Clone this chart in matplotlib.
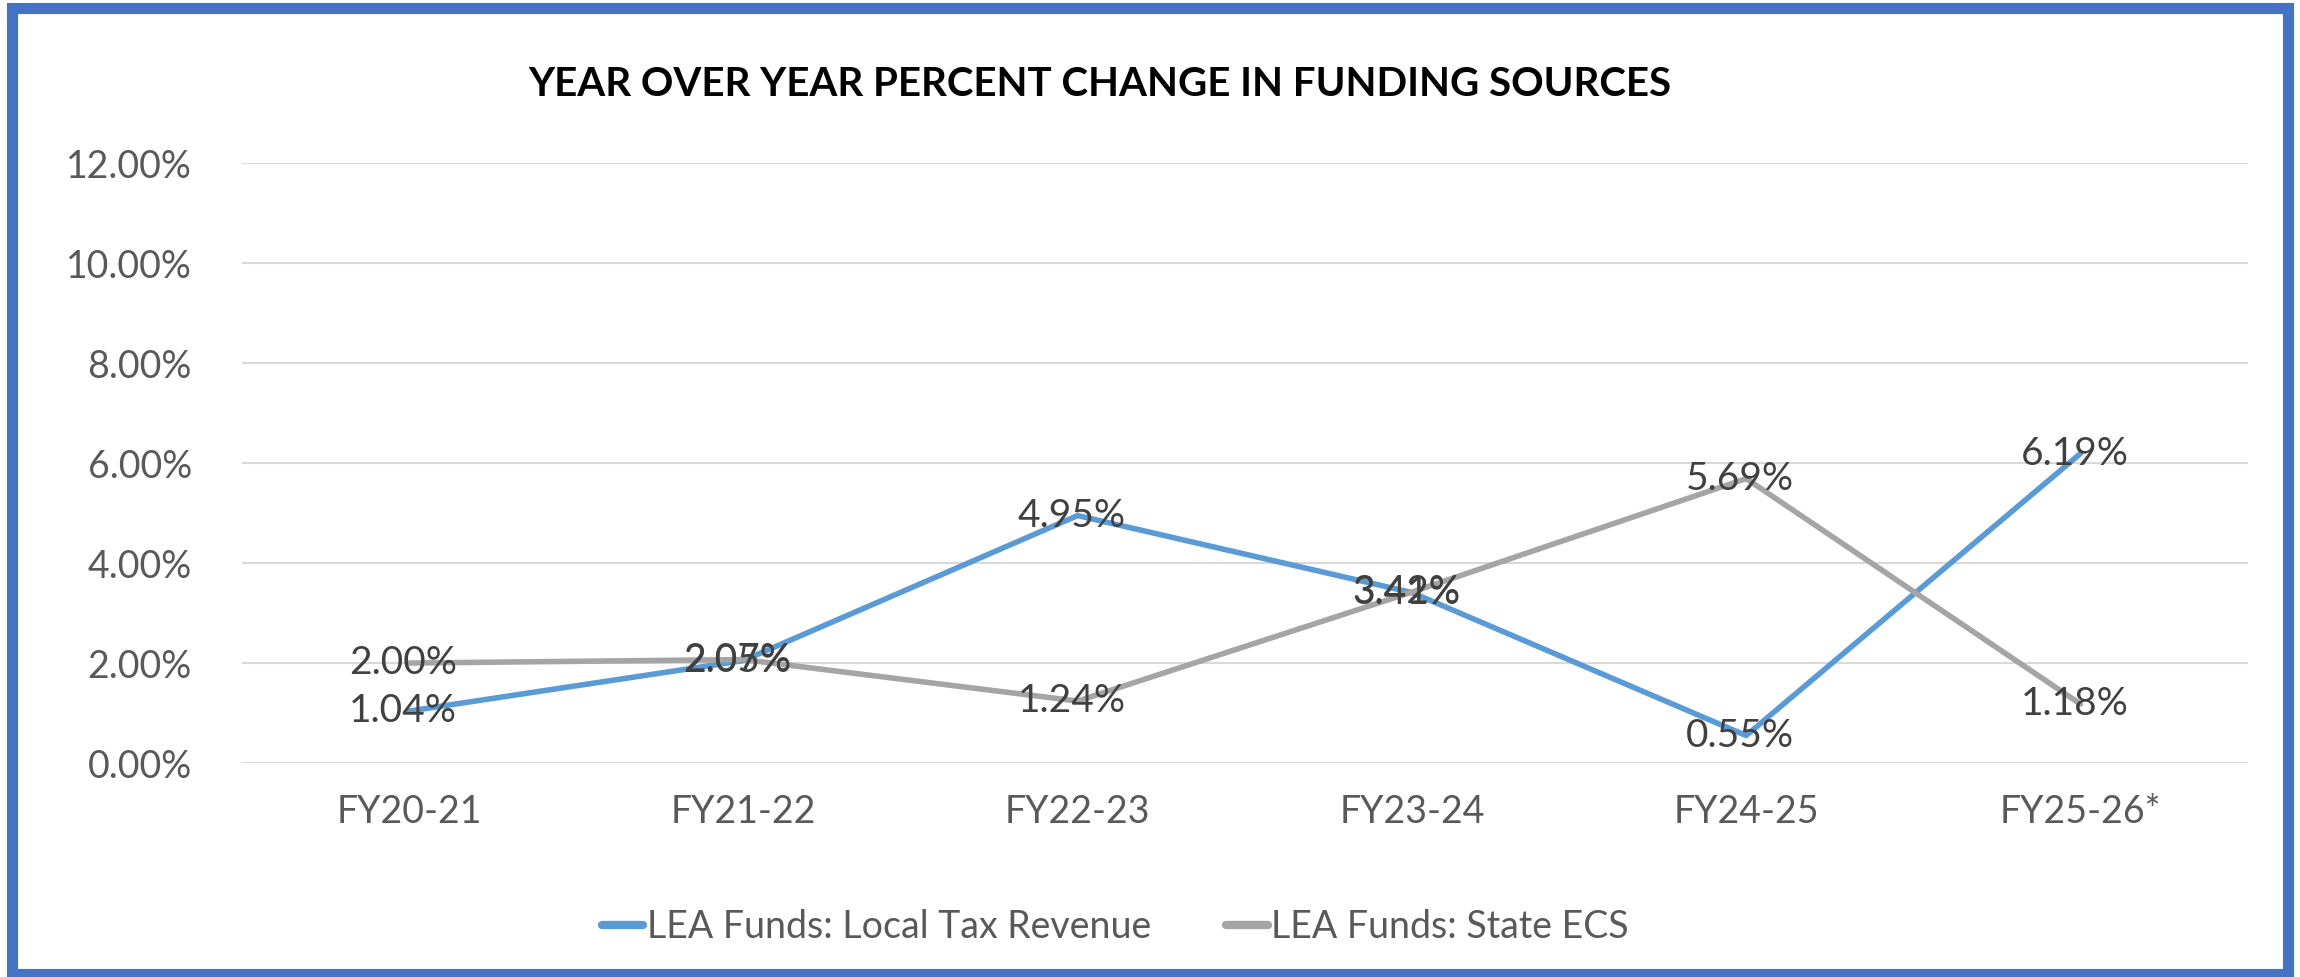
import matplotlib

matplotlib.use("Agg")
import matplotlib.pyplot as plt
from matplotlib.patches import Rectangle
from matplotlib.ticker import FuncFormatter

plt.rcParams["font.family"] = ["Lato", "DejaVu Sans"]

years = ["FY20-21", "FY21-22", "FY22-23", "FY23-24", "FY24-25", "FY25-26*"]
local_tax = [1.04, 2.05, 4.95, 3.41, 0.55, 6.19]
state_ecs = [2.00, 2.07, 1.24, 3.42, 5.69, 1.18]
y_ticks = [0, 2, 4, 6, 8, 10, 12]

BLUE = "#5B9BD5"
GRAY = "#A5A5A5"
LABEL = "#404040"
TICK = "#595959"

fig = plt.figure(figsize=(23, 9.77), dpi=100)
ax = fig.add_axes([0.1052, 0.219, 0.872, 0.614])

x = range(len(years))
ax.plot(x, local_tax, color=BLUE, lw=4, solid_capstyle="round",
        label="LEA Funds: Local Tax Revenue", zorder=3)
ax.plot(x, state_ecs, color=GRAY, lw=4, solid_capstyle="round",
        label="LEA Funds: State ECS", zorder=3)

for series in (local_tax, state_ecs):
    for i, v in enumerate(series):
        ax.annotate(f"{v:.2f}%", (i, v), xytext=(-6, 0), textcoords="offset pixels",
                    ha="center", va="center", fontsize=28, color=LABEL, zorder=4)

ax.set_xlim(-0.5, len(years) - 0.5)
ax.set_ylim(0, 12)
ax.set_yticks(y_ticks)
ax.yaxis.set_major_formatter(FuncFormatter(lambda v, _: f"{v:.2f}%"))
ax.set_xticks(list(x))
ax.set_xticklabels(years)
ax.tick_params(axis="both", length=0, labelsize=27, labelcolor=TICK)
ax.tick_params(axis="y", pad=36)
ax.tick_params(axis="x", pad=22)
ax.grid(axis="y", color="#D9D9D9", lw=1.5, zorder=0)
for s in ax.spines.values():
    s.set_visible(False)

fig.text(0.478, 0.914, "YEAR OVER YEAR PERCENT CHANGE IN FUNDING SOURCES",
         ha="center", va="center", fontsize=29, fontweight="bold", color="black")

leg = fig.legend(loc="center", bbox_to_anchor=(0.485, 0.051), ncol=2, frameon=False,
                 fontsize=27, labelcolor=TICK, handlelength=1.1, handletextpad=0.1,
                 columnspacing=2.0)
for h in leg.get_lines():
    h.set_linewidth(6)

fig.patches.append(Rectangle((12 / 2300, 3 / 977), 2276 / 2300, 966 / 977,
                             transform=fig.transFigure, fill=False,
                             edgecolor="#4472C4", lw=8))

fig.savefig("out.png", dpi=100)
